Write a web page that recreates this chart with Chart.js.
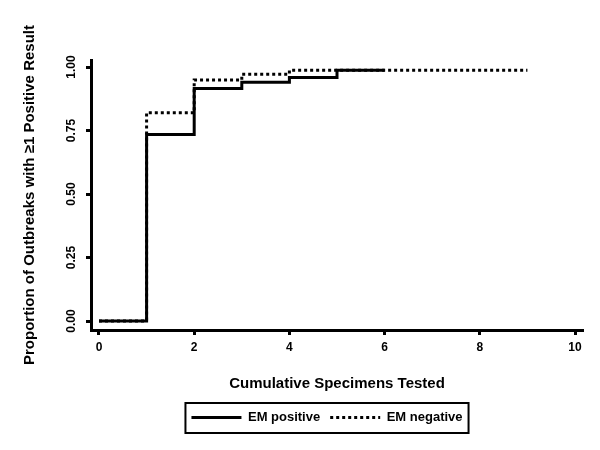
<!DOCTYPE html>
<html>
<head>
<meta charset="utf-8">
<script src="https://cdn.jsdelivr.net/npm/chart.js@4"></script>
<style>
  html, body { margin: 0; padding: 0; background: #fff; }
  #wrap { width: 600px; height: 450px; }
</style>
</head>
<body>
<div id="wrap"><canvas id="curva"></canvas></div>
<script>
// dados
const especimes = [0, 1, 2, 3, 4, 5, 6, 9];
const emPositivo = [0, 0.735, 0.916, 0.94, 0.959, 0.988, 0.988, null];
const emNegativo = [0, 0.82, 0.949, 0.972, 0.988, 0.988, null, 0.988];
const ticksX = [0, 2, 4, 6, 8, 10];
const ticksY = [0, 0.25, 0.5, 0.75, 1];

const familia = 'Liberation Sans, Arial, sans-serif';
const fonteTicks = { family: familia, size: 12, weight: 'bold' };
const fonteTitulo = { family: familia, size: 15, weight: 'bold' };
const fonteLegenda = { family: familia, size: 13, weight: 'bold' };

function pontos(valores) {
    return especimes
        .map((x, i) => ({ x: x, y: valores[i] }))
        .filter(p => p.y !== null);
}

// moldura em volta da legenda
const molduraLegenda = {
    id: 'molduraLegenda',
    afterLayout(chart) {
        // centro da legenda deslocado para a direita como no original
        chart.legend.left = 54;
        chart.legend.right = 600;
    },
    afterDraw(chart) {
        const leg = chart.legend;
        if (!leg || !leg.legendHitBoxes.length) return;
        const caixas = leg.legendHitBoxes;
        const ultimo = caixas[caixas.length - 1];
        const esq = caixas[0].left - 6;
        const dir = ultimo.left + ultimo.width + 6;
        const ctx = chart.ctx;
        ctx.save();
        ctx.strokeStyle = '#000';
        ctx.lineWidth = 2;
        ctx.strokeRect(esq, leg.top + 2, dir - esq, leg.bottom - leg.top - 3);
        ctx.restore();
    }
};

const config = {
    type: 'line',
    data: {
        datasets: [{
            label: 'EM positive',
            data: pontos(emPositivo),
            borderColor: '#000',
            backgroundColor: '#000',
            borderWidth: 3,
            stepped: 'before',
            pointRadius: 0,
            fill: false
        }, {
            label: 'EM negative',
            data: pontos(emNegativo),
            borderColor: '#000',
            backgroundColor: '#000',
            borderWidth: 3,
            borderDash: [3, 3],
            stepped: 'before',
            pointRadius: 0,
            fill: false
        }]
    },
    options: {
        responsive: true,
        maintainAspectRatio: false,
        animation: false,
        layout: {
            padding: { top: 60, right: 17, bottom: 16, left: 0 }
        },
        plugins: {
            tooltip: { enabled: false },
            legend: {
                position: 'bottom',
                labels: {
                    color: '#000',
                    font: fonteLegenda,
                    usePointStyle: true,
                    pointStyle: 'line',
                    pointStyleWidth: 50,
                    padding: 10,
                    generateLabels: (chart) => {
                        const itens = Chart.defaults.plugins.legend.labels.generateLabels(chart);
                        itens.forEach(item => {
                            const ds = chart.data.datasets[item.datasetIndex];
                            item.lineDash = ds.borderDash || [];
                            item.lineWidth = 3;
                            item.strokeStyle = '#000';
                        });
                        return itens;
                    }
                }
            }
        },
        scales: {
            x: {
                type: 'linear',
                min: -0.168,
                max: 10.168,
                afterBuildTicks: (eixo) => { eixo.ticks = ticksX.map(v => ({ value: v })); },
                afterFit: (eixo) => { eixo.height = 71; },
                border: { display: true, color: '#000', width: 3 },
                grid: {
                    display: true,
                    drawOnChartArea: false,
                    drawTicks: true,
                    tickLength: 5,
                    tickWidth: 3,
                    tickColor: '#000'
                },
                ticks: {
                    color: '#000',
                    font: fonteTicks,
                    padding: 5,
                    maxRotation: 0,
                    callback: (v) => String(v)
                },
                title: {
                    display: true,
                    text: 'Cumulative Specimens Tested',
                    color: '#000',
                    font: fonteTitulo,
                    padding: { top: 0, bottom: 8 }
                }
            },
            y: {
                type: 'linear',
                min: -0.0354,
                max: 1.028,
                afterBuildTicks: (eixo) => { eixo.ticks = ticksY.map(v => ({ value: v })); },
                afterFit: (eixo) => { eixo.width = 91; },
                border: { display: true, color: '#000', width: 3 },
                grid: {
                    display: true,
                    drawOnChartArea: false,
                    drawTicks: true,
                    tickLength: 5,
                    tickWidth: 3,
                    tickColor: '#000'
                },
                ticks: {
                    color: '#000',
                    font: fonteTicks,
                    padding: 3,
                    minRotation: 90,
                    maxRotation: 90,
                    crossAlign: 'center',
                    callback: (v) => v.toFixed(2)
                },
                title: {
                    display: true,
                    text: 'Proportion of Outbreaks with \u22651 Positive Result',
                    color: '#000',
                    font: fonteTitulo,
                    padding: { top: 21, bottom: 0 }
                }
            }
        }
    },
    plugins: [molduraLegenda]
};

let chart;

document.addEventListener('DOMContentLoaded', () => {
    const canvas = document.getElementById('curva');
    if (canvas) {
        chart = new Chart(canvas, config);
    }
});
</script>
</body>
</html>
